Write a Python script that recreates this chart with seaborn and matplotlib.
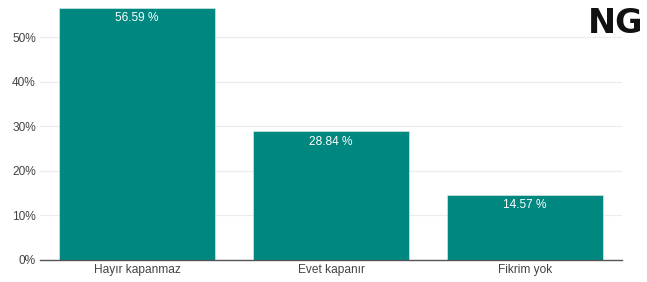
import pandas as pd
import matplotlib.pyplot as plt
import seaborn as sns

# Data
answers = ["Hayır kapanmaz", "Evet kapanır", "Fikrim yok"]
shares = [56.59, 28.84, 14.57]
y_ticks = [0, 10, 20, 30, 40, 50]

df = pd.DataFrame({"answer": answers, "share": shares})

sns.set_style("white")
plt.rcParams["font.family"] = ["Liberation Sans", "DejaVu Sans"]

fig = plt.figure(figsize=(6.47, 2.82), dpi=100)
ax = fig.add_axes([40 / 647, 22 / 282, 582 / 647, 260 / 282])

sns.barplot(data=df, x="answer", y="share", color="#00877f", width=0.8,
            saturation=1, edgecolor="#e6f2f1", linewidth=0.4, ax=ax, zorder=3)

ax.set_xlim(-0.5, 2.5)
ax.set_ylim(0, 58.3)
ax.set_yticks(y_ticks)
ax.set_yticklabels([f"{t}%" for t in y_ticks])
ax.yaxis.grid(True, color="#ececec", linewidth=0.8, zorder=0)
ax.set_xlabel("")
ax.set_ylabel("")
ax.tick_params(axis="both", labelsize=8.6, colors="#444444", length=0, pad=3)

for side in ["top", "right", "left"]:
    ax.spines[side].set_visible(False)
ax.spines["bottom"].set_color("#555555")
ax.spines["bottom"].set_linewidth(1)
ax.spines["bottom"].set_zorder(4)

# labels inside the bars
for i, v in enumerate(shares):
    ax.annotate(f"{v:.2f} %", (i, v), xytext=(0, -7.5), textcoords="offset points",
                ha="center", va="center", color="white", fontsize=8.6, zorder=5)

# watermark logo
fig.text(0.995, 0.915, "NG", ha="right", va="center", fontsize=24,
         fontweight="bold", color="#111111", family="DejaVu Sans")

fig.savefig("out.png", dpi=100)
